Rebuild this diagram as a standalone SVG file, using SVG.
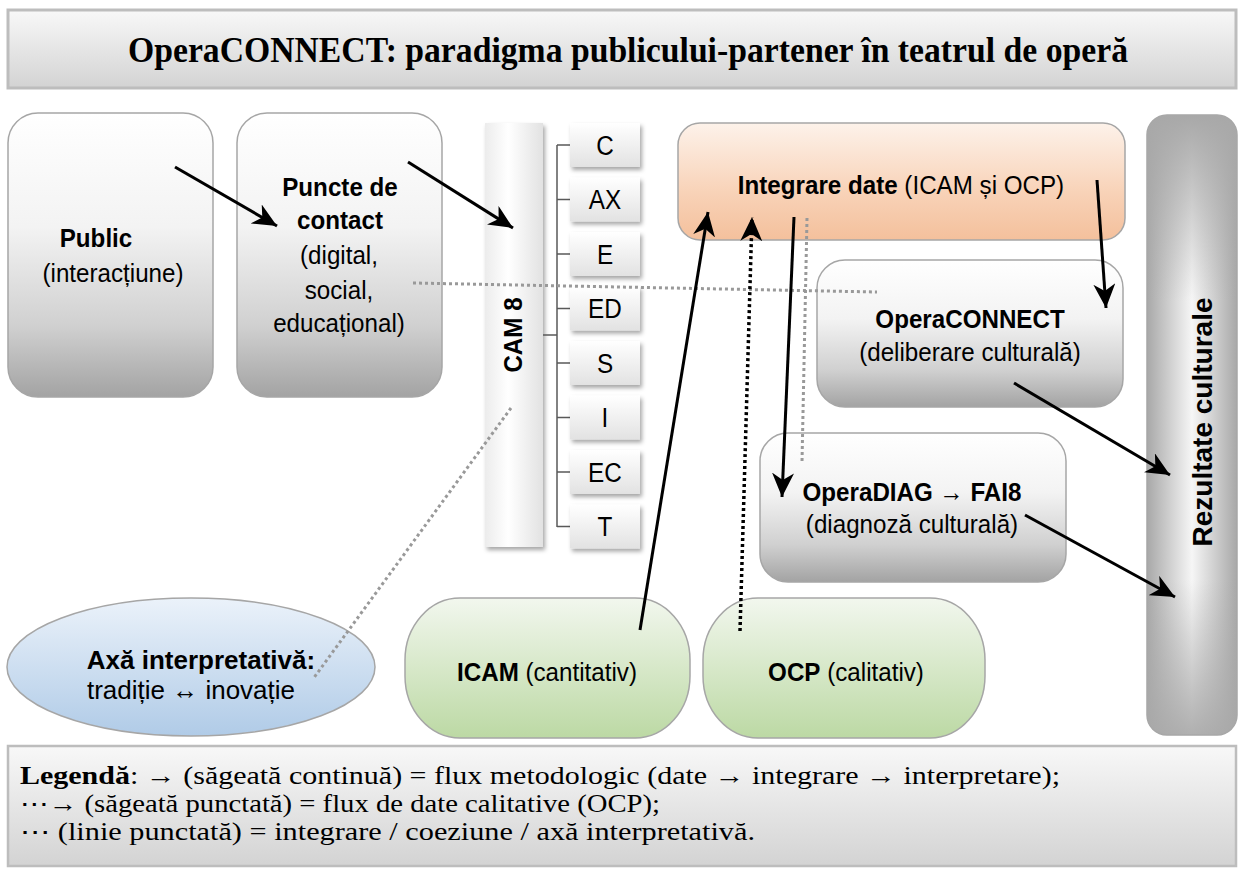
<svg xmlns="http://www.w3.org/2000/svg" width="1241" height="872" viewBox="0 0 1241 872">
<style>
.t{font-family:"Liberation Sans",Arial,sans-serif;font-size:26px;fill:#000;text-anchor:middle;transform-box:fill-box;transform-origin:center;transform:scaleX(.93)}
.r{font-family:"Liberation Sans",Arial,sans-serif;fill:#000;text-anchor:middle;font-weight:bold}
.it{font-family:"Liberation Sans",Arial,sans-serif;font-size:27px;fill:#000;text-anchor:middle;transform-box:fill-box;transform-origin:center;transform:scaleX(.9)}
.b{font-weight:bold}
.box{stroke:#a6a6a6;stroke-width:1.5}
.sol{stroke:#000;stroke-width:3;fill:none;marker-end:url(#ah)}
.dot{stroke:#000;stroke-width:3.5;fill:none;stroke-dasharray:3 3;marker-end:url(#ah)}
.gdot{stroke:#999;stroke-width:3;fill:none;stroke-dasharray:3 3}
.br{stroke:#595959;stroke-width:1.5;fill:none}
.lg{font-family:"Liberation Serif","Times New Roman",serif;font-size:25px;fill:#000}
</style>
<defs>
<linearGradient id="gGray" x1="0" y1="0" x2="0" y2="1">
<stop offset="0" stop-color="#ffffff"/><stop offset="0.4" stop-color="#f3f3f3"/><stop offset="0.75" stop-color="#d0d0d0"/><stop offset="1" stop-color="#a3a3a3"/>
</linearGradient>
<linearGradient id="gTitle" x1="0" y1="0" x2="0" y2="1">
<stop offset="0" stop-color="#f8f8f8"/><stop offset="1" stop-color="#d3d3d3"/>
</linearGradient>
<linearGradient id="gPeach" x1="0" y1="0" x2="0" y2="1">
<stop offset="0" stop-color="#fdf2ea"/><stop offset="0.6" stop-color="#f8d2b7"/><stop offset="1" stop-color="#f4c09c"/>
</linearGradient>
<linearGradient id="gGreen" x1="0" y1="0" x2="0" y2="1">
<stop offset="0" stop-color="#f2f7ee"/><stop offset="1" stop-color="#bcd9a4"/>
</linearGradient>
<linearGradient id="gBlue" x1="0" y1="0" x2="0" y2="1">
<stop offset="0" stop-color="#ebf2fa"/><stop offset="1" stop-color="#b0cbe7"/>
</linearGradient>
<linearGradient id="gBar" x1="0" y1="0" x2="1" y2="0">
<stop offset="0" stop-color="#ececec"/><stop offset="0.4" stop-color="#ffffff"/><stop offset="1" stop-color="#e2e2e2"/>
</linearGradient>
<linearGradient id="gItem" x1="0" y1="0" x2="0" y2="1">
<stop offset="0" stop-color="#ffffff"/><stop offset="1" stop-color="#e2e2e2"/>
</linearGradient>
<linearGradient id="gRez" x1="0" y1="0" x2="1" y2="0">
<stop offset="0" stop-color="#a8a8a8"/><stop offset="0.5" stop-color="#f6f6f6"/><stop offset="1" stop-color="#a8a8a8"/>
</linearGradient>
<linearGradient id="gRezV" x1="0" y1="0" x2="0" y2="1">
<stop offset="0" stop-color="#a8a8a8" stop-opacity="1"/><stop offset="0.3" stop-color="#a8a8a8" stop-opacity="0"/><stop offset="0.75" stop-color="#a8a8a8" stop-opacity="0"/><stop offset="1" stop-color="#a8a8a8" stop-opacity="0.9"/>
</linearGradient>
<filter id="sh" x="-20%" y="-10%" width="150%" height="130%">
<feDropShadow dx="2" dy="3" stdDeviation="2" flood-color="#000" flood-opacity="0.35"/>
</filter>
<marker id="ah" markerUnits="userSpaceOnUse" markerWidth="26" markerHeight="22" viewBox="0 0 26 22" refX="24" refY="11" orient="auto">
<path d="M0,0 L24,11 L0,22 L7,11 z" fill="#000"/>
</marker>
</defs>

<g id="title">
<rect x="8" y="10" width="1228" height="78" fill="url(#gTitle)" stroke="#bdbdbd" stroke-width="3"/>
<text x="628" y="62" font-family="'Liberation Serif','Times New Roman',serif" font-size="36" font-weight="bold" text-anchor="middle" textLength="1000" lengthAdjust="spacingAndGlyphs">OperaCONNECT: paradigma publicului-partener în teatrul de operă</text>
</g>

<g id="public">
<rect class="box" x="8" y="113" width="205" height="284" rx="30" fill="url(#gGray)"/>
<text class="t b" x="96" y="247">Public</text>
<text class="t" x="113" y="282">(interacțiune)</text>
</g>

<g id="puncte">
<rect class="box" x="237" y="113" width="205" height="284" rx="30" fill="url(#gGray)"/>
<text class="t b" x="340" y="196">Puncte de</text>
<text class="t b" x="340" y="229">contact</text>
<text class="t" x="339" y="264">(digital,</text>
<text class="t" x="339" y="299">social,</text>
<text class="t" x="339" y="332">educațional)</text>
</g>

<g id="cam8">
<rect x="485" y="123" width="58" height="424" fill="url(#gBar)" filter="url(#sh)"/>
<text class="r" font-size="26" transform="translate(522,335) rotate(-90) scale(0.93,1)">CAM 8</text>
</g>

<g id="cam-branches">
<path class="br" d="M543,335 H557 M557,145 V527 M557,145 H570 M557,199.5 H570 M557,254 H570 M557,308.5 H570 M557,363 H570 M557,417.5 H570 M557,472 H570 M557,526.5 H570"/>
</g>

<g id="item-C"><rect x="570" y="123" width="70" height="44" fill="url(#gItem)" filter="url(#sh)"/><text class="it" x="605" y="155">C</text></g>
<g id="item-AX"><rect x="570" y="177.5" width="70" height="44" fill="url(#gItem)" filter="url(#sh)"/><text class="it" x="605" y="209.5">AX</text></g>
<g id="item-E"><rect x="570" y="232" width="70" height="44" fill="url(#gItem)" filter="url(#sh)"/><text class="it" x="605" y="264">E</text></g>
<g id="item-ED"><rect x="570" y="286.5" width="70" height="44" fill="url(#gItem)" filter="url(#sh)"/><text class="it" x="605" y="318.5">ED</text></g>
<g id="item-S"><rect x="570" y="341" width="70" height="44" fill="url(#gItem)" filter="url(#sh)"/><text class="it" x="605" y="373">S</text></g>
<g id="item-I"><rect x="570" y="395.5" width="70" height="44" fill="url(#gItem)" filter="url(#sh)"/><text class="it" x="605" y="427.5">I</text></g>
<g id="item-EC"><rect x="570" y="450" width="70" height="44" fill="url(#gItem)" filter="url(#sh)"/><text class="it" x="605" y="482">EC</text></g>
<g id="item-T"><rect x="570" y="504.5" width="70" height="44" fill="url(#gItem)" filter="url(#sh)"/><text class="it" x="605" y="536.5">T</text></g>

<g id="integrare">
<rect class="box" x="678" y="123" width="447" height="117" rx="22" fill="url(#gPeach)"/>
<text class="t" x="901" y="194"><tspan class="b">Integrare date</tspan> (ICAM și OCP)</text>
</g>

<g id="operaconnect">
<rect class="box" x="817" y="260" width="306" height="147" rx="28" fill="url(#gGray)"/>
<text class="t b" x="970" y="328">OperaCONNECT</text>
<text class="t" x="970" y="361">(deliberare culturală)</text>
</g>

<g id="operadiag">
<rect class="box" x="760" y="433" width="306" height="149" rx="28" fill="url(#gGray)"/>
<text class="t b" x="912" y="501">OperaDIAG → FAI8</text>
<text class="t" x="912" y="533">(diagnoză culturală)</text>
</g>

<g id="rezultate">
<rect class="box" x="1147" y="115" width="90" height="620" rx="20" fill="url(#gRez)"/>
<rect x="1147" y="115" width="90" height="620" rx="20" fill="url(#gRezV)"/>
<text class="r" font-size="28" transform="translate(1212,422) rotate(-90)">Rezultate culturale</text>
</g>

<g id="axa">
<ellipse class="box" cx="191" cy="667" rx="184" ry="69" fill="url(#gBlue)"/>
<text class="t b" x="201" y="669" style="transform:none">Axă interpretativă:</text>
<text class="t" x="191" y="699" style="transform:none">tradiție ↔ inovație</text>
</g>

<g id="icam">
<rect class="box" x="405" y="598" width="285" height="140" rx="55" ry="62" fill="url(#gGreen)"/>
<text class="t" x="547" y="681"><tspan class="b">ICAM</tspan> (cantitativ)</text>
</g>

<g id="ocp">
<rect class="box" x="703" y="598" width="282" height="140" rx="55" ry="62" fill="url(#gGreen)"/>
<text class="t" x="846" y="681"><tspan class="b">OCP</tspan> (calitativ)</text>
</g>

<g id="connectors">
<line class="gdot" x1="413" y1="283" x2="877" y2="292"/>
<line class="gdot" x1="511" y1="408" x2="313" y2="679"/>
<line class="gdot" x1="807" y1="218" x2="802" y2="462"/>
<line class="sol" x1="175" y1="167" x2="277" y2="226"/>
<line class="sol" x1="408" y1="162" x2="513" y2="228"/>
<line class="sol" x1="640" y1="630" x2="708" y2="212"/>
<line class="dot" x1="740" y1="631" x2="752" y2="217"/>
<line class="sol" x1="794" y1="217" x2="782" y2="497"/>
<line class="sol" x1="1097" y1="180" x2="1106" y2="308"/>
<line class="sol" x1="1014" y1="383" x2="1170" y2="475"/>
<line class="sol" x1="1025" y1="515" x2="1175" y2="597"/>
</g>

<g id="legend">
<rect x="8" y="746" width="1228" height="120" fill="url(#gTitle)" stroke="#bdbdbd" stroke-width="2.5"/>
<text class="lg" x="20" y="784" textLength="1040" lengthAdjust="spacingAndGlyphs"><tspan font-weight="bold">Legendă</tspan>: → (săgeată continuă) = flux metodologic (date → integrare → interpretare);</text>
<text class="lg" x="20" y="812" textLength="640" lengthAdjust="spacingAndGlyphs">⋯→ (săgeată punctată) = flux de date calitative (OCP);</text>
<text class="lg" x="20" y="840" textLength="735" lengthAdjust="spacingAndGlyphs">⋯ (linie punctată) = integrare / coeziune / axă interpretativă.</text>
</g>
</svg>
